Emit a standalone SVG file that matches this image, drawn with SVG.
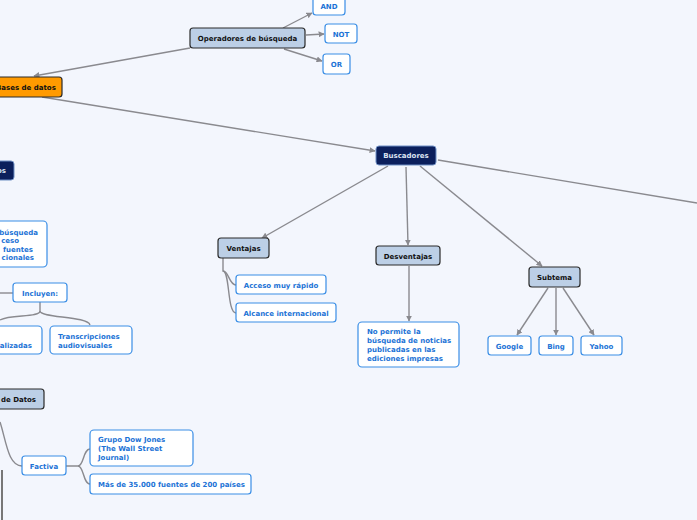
<svg xmlns="http://www.w3.org/2000/svg" width="697" height="520" viewBox="0 0 697 520">
<defs>
<style>
.t{font-family:"DejaVu Sans",Verdana,sans-serif;font-weight:bold;font-size:7px}
.leaf rect{fill:#ffffff;stroke:#3a8ee6;stroke-width:1.2}
.leaf text{fill:#1c73d6}
.sub rect{fill:#bccfe6;stroke:#2a2a2a;stroke-width:1.2}
.sub text{fill:#111}
.main rect{fill:#0b1f5c;stroke:#6f8fc4;stroke-width:1}
.main text{fill:#dce4f2}
.root rect{fill:#ff9a00;stroke:#2a2a2a;stroke-width:1.2}
.root text{fill:#111}
.c path,.c line{stroke:#8a8a8f;stroke-width:1.4;fill:none}
</style>
<marker id="ar" viewBox="0 0 10 10" refX="9" refY="5" markerWidth="6" markerHeight="6" orient="auto" markerUnits="userSpaceOnUse">
<path d="M0,0 L10,5 L0,10 z" fill="#8a8a8f"/>
</marker>
</defs>
<rect width="697" height="520" fill="#f3f6fd"/>
<g id="connectors" class="c">
<line x1="190" y1="48" x2="34" y2="76" marker-end="url(#ar)"/>
<line x1="283" y1="28" x2="312" y2="13" marker-end="url(#ar)"/>
<line x1="306" y1="35" x2="324" y2="34" marker-end="url(#ar)"/>
<line x1="284" y1="49" x2="322" y2="61" marker-end="url(#ar)"/>
<line x1="42" y1="97" x2="375" y2="151" marker-end="url(#ar)"/>
<line x1="438" y1="160" x2="697" y2="203"/>
<line x1="388" y1="166" x2="262" y2="238" marker-end="url(#ar)"/>
<line x1="406" y1="167" x2="408" y2="245" marker-end="url(#ar)"/>
<line x1="420" y1="166" x2="542" y2="266" marker-end="url(#ar)"/>
<line x1="409" y1="266" x2="409" y2="321" marker-end="url(#ar)"/>
<line x1="548" y1="288" x2="517" y2="335" marker-end="url(#ar)"/>
<line x1="556" y1="288" x2="556" y2="335" marker-end="url(#ar)"/>
<line x1="563" y1="288" x2="594" y2="335" marker-end="url(#ar)"/>
<path d="M223,258 V271 C229,271 229,285 236,285"/>
<path d="M223,271 C230,271 227,313 236,313"/>
<path d="M0,293 H13"/>
<path d="M40,302 V311 C40,318 10,314 0,320"/>
<path d="M40,311 C40,318 88,316 90,325"/>
<path d="M0,422 C6,440 8,466 22,466"/>
<path d="M2,470 L2,520" style="stroke:#777;stroke-width:2"/>
<path d="M66,466 H78 C84,466 83,449 90,449"/>
<path d="M78,466 C84,466 83,484 90,484"/>
</g>
<g id="n-bases" class="root t"><rect x="-40" y="77" width="102" height="20" rx="3"/><text x="-4" y="90">Bases de datos</text></g>
<g id="n-operadores" class="sub t"><rect x="190" y="28" width="115" height="20" rx="3"/><text x="247.5" y="41" text-anchor="middle">Operadores de búsqueda</text></g>
<g id="n-and" class="leaf t"><rect x="313" y="-3" width="32" height="18" rx="3"/><text x="329" y="9" text-anchor="middle">AND</text></g>
<g id="n-not" class="leaf t"><rect x="325" y="24" width="32" height="19" rx="3"/><text x="341" y="37" text-anchor="middle">NOT</text></g>
<g id="n-or" class="leaf t"><rect x="323" y="54" width="27" height="20" rx="3"/><text x="336.5" y="67" text-anchor="middle">OR</text></g>
<g id="n-buscadores" class="main t"><rect x="376" y="146" width="60" height="19" rx="3"/><text x="406" y="158" text-anchor="middle">Buscadores</text></g>
<g id="n-left-main" class="main t"><rect x="-60" y="161" width="74" height="19" rx="3"/><text x="6" y="173" text-anchor="end">os</text></g>
<g id="n-ventajas" class="sub t"><rect x="218" y="238" width="51" height="20" rx="3"/><text x="243.5" y="251" text-anchor="middle">Ventajas</text></g>
<g id="n-acceso" class="leaf t"><rect x="236" y="275" width="90" height="19" rx="3"/><text x="281" y="288" text-anchor="middle">Acceso muy rápido</text></g>
<g id="n-alcance" class="leaf t"><rect x="236" y="303" width="100" height="19" rx="3"/><text x="286" y="316" text-anchor="middle">Alcance internacional</text></g>
<g id="n-desventajas" class="sub t"><rect x="376" y="246" width="64" height="19" rx="3"/><text x="408" y="259" text-anchor="middle">Desventajas</text></g>
<g id="n-nopermite" class="leaf t"><rect x="358" y="322" width="101" height="45" rx="4"/><text x="367" y="334">No permite la</text><text x="367" y="343">búsqueda de noticias</text><text x="367" y="352">publicadas en las</text><text x="367" y="361">ediciones impresas</text></g>
<g id="n-subtema" class="sub t"><rect x="529" y="267" width="51" height="20" rx="3"/><text x="554.5" y="280" text-anchor="middle">Subtema</text></g>
<g id="n-google" class="leaf t"><rect x="488" y="336" width="43" height="19" rx="3"/><text x="509.5" y="349" text-anchor="middle">Google</text></g>
<g id="n-bing" class="leaf t"><rect x="539" y="336" width="34" height="19" rx="3"/><text x="556" y="349" text-anchor="middle">Bing</text></g>
<g id="n-yahoo" class="leaf t"><rect x="581" y="336" width="41" height="19" rx="3"/><text x="601.5" y="349" text-anchor="middle">Yahoo</text></g>
<g id="n-busqueda" class="leaf t"><rect x="-60" y="221" width="107" height="46" rx="4"/><text x="38" y="235" text-anchor="end">búsqueda</text><text x="19" y="243" text-anchor="end">ceso</text><text x="33" y="252" text-anchor="end">fuentes</text><text x="34" y="260" text-anchor="end">cionales</text></g>
<g id="n-incluyen" class="leaf t"><rect x="13" y="283" width="54" height="19" rx="3"/><text x="40" y="296" text-anchor="middle">Incluyen:</text></g>
<g id="n-alizadas" class="leaf t"><rect x="-60" y="326" width="102" height="28" rx="4"/><text x="32" y="348" text-anchor="end">alizadas</text></g>
<g id="n-transcripciones" class="leaf t"><rect x="50" y="326" width="82" height="28" rx="4"/><text x="58" y="339">Transcripciones</text><text x="58" y="348">audiovisuales</text></g>
<g id="n-datos" class="sub t"><rect x="-60" y="389" width="104" height="20" rx="3"/><text x="36" y="402" text-anchor="end">de Datos</text></g>
<g id="n-factiva" class="leaf t"><rect x="22" y="456" width="44" height="19" rx="3"/><text x="44" y="469" text-anchor="middle">Factiva</text></g>
<g id="n-dowjones" class="leaf t"><rect x="90" y="430" width="103" height="36" rx="4"/><text x="98" y="442">Grupo Dow Jones</text><text x="98" y="451">(The Wall Street</text><text x="98" y="460">Journal)</text></g>
<g id="n-fuentes" class="leaf t"><rect x="90" y="474" width="161" height="20" rx="3"/><text x="98" y="487">Más de 35.000 fuentes de 200 países</text></g>
</svg>
